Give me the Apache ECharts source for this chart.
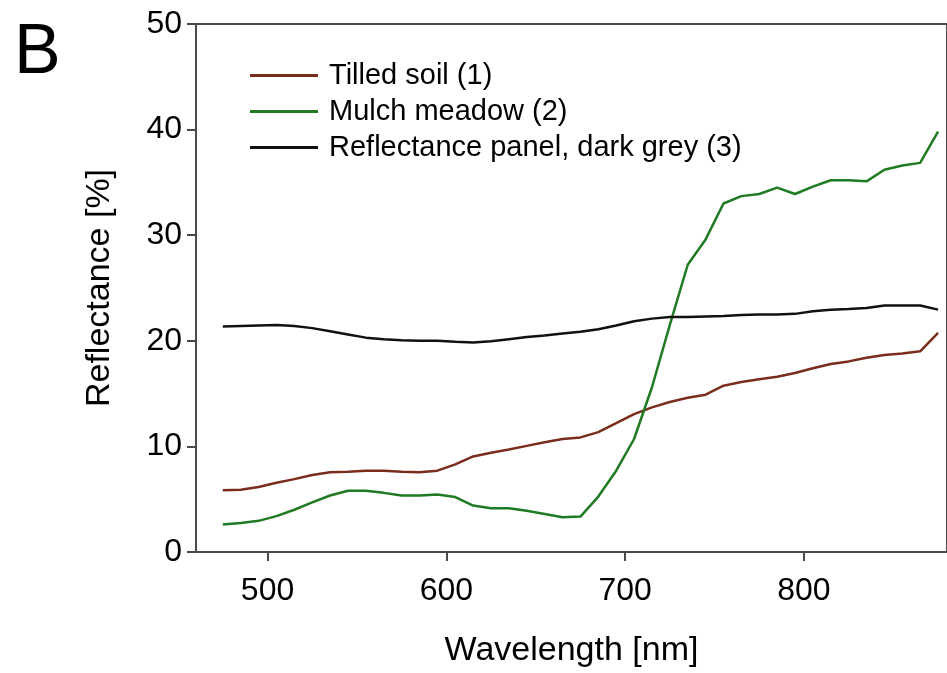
<!DOCTYPE html>
<html>
<head>
<meta charset="utf-8">
<title>Reflectance B</title>
<script src="https://cdn.jsdelivr.net/npm/echarts@6/dist/echarts.min.js"></script>
<style>
html, body { margin: 0; padding: 0; background: #fff; }
#chart { width: 947px; height: 673px; }
</style>
</head>
<body>
<div id="chart"></div>
<script>
// wavelength steps (nm)
var wavelength = [475, 485, 495, 505, 515, 525, 535, 545, 555, 565, 575, 585, 595, 605, 615, 625, 635, 645, 655, 665,
	675, 685, 695, 705, 715, 725, 735, 745, 755, 765, 775, 785, 795, 805, 815, 825, 835, 845, 855, 865, 875];

// Tilled soil (1)
var tilledSoil = [5.85, 5.9, 6.15, 6.55, 6.9, 7.3, 7.55, 7.6, 7.7, 7.7, 7.6, 7.55, 7.7, 8.3, 9.05, 9.4, 9.7, 10.05, 10.4, 10.7,
	10.85, 11.35, 12.2, 13.05, 13.7, 14.2, 14.6, 14.9, 15.75, 16.1, 16.35, 16.6, 16.95, 17.4, 17.8, 18.05, 18.4, 18.65, 18.8, 19.0, 20.75];

// Mulch meadow (2)
var mulchMeadow = [2.6, 2.75, 2.95, 3.4, 4.0, 4.7, 5.35, 5.8, 5.8, 5.6, 5.35, 5.35, 5.45, 5.2, 4.4, 4.15, 4.15, 3.9, 3.6, 3.3,
	3.35, 5.25, 7.7, 10.7, 15.6, 21.5, 27.2, 29.6, 33.0, 33.7, 33.9, 34.5, 33.9, 34.6, 35.2, 35.2, 35.1, 36.2, 36.6, 36.85, 39.8];

// Reflectance panel, dark grey (3)
var greyPanel = [21.35, 21.4, 21.45, 21.5, 21.4, 21.2, 20.9, 20.6, 20.3, 20.15, 20.05, 20.0, 20.0, 19.9, 19.85, 19.95, 20.15, 20.35, 20.5, 20.7,
	20.85, 21.1, 21.45, 21.85, 22.1, 22.25, 22.25, 22.3, 22.35, 22.45, 22.5, 22.5, 22.55, 22.8, 22.95, 23.0, 23.1, 23.35, 23.35, 23.35, 22.95];

var xTicks = [500, 600, 700, 800];
var seriesNames = ["Tilled soil (1)", "Mulch meadow (2)", "Reflectance panel, dark grey (3)"];

var font = "'Liberation Sans', Arial, sans-serif";
var axisGrey = "#4a4a4a";

function pairs(ys) {
	var out = [];
	for (var i = 0; i < wavelength.length; i++) {
		out.push([wavelength[i], ys[i]]);
	}
	return out;
}

function lineSeries(name, ys, color) {
	return {
		name: name,
		type: "line",
		data: pairs(ys),
		showSymbol: false,
		symbol: "none",
		lineStyle: { color: color, width: 2.5 },
		itemStyle: { color: color },
		animation: false
	};
}

var myChart = echarts.init(document.getElementById("chart"));

var option = {
	backgroundColor: "#fff",
	animation: false,
	graphic: [{
		type: "text",
		left: 14,
		top: 19,
		style: { text: "B", font: "70px " + font, fill: "#000" }
	}],
	grid: {
		left: 196, top: 24, bottom: 121, right: -5,
		show: true, borderColor: axisGrey, borderWidth: 2
	},
	legend: {
		orient: "vertical",
		left: 245,
		top: 56,
		itemWidth: 68,
		itemHeight: 3,
		itemGap: 7,
		icon: "rect",
		data: seriesNames,
		textStyle: { fontFamily: font, fontSize: 29, color: "#000", lineHeight: 29, padding: [0, 0, 0, 6] }
	},
	xAxis: {
		type: "value",
		min: 460,
		max: 880,
		name: "Wavelength [nm]",
		nameLocation: "middle",
		nameGap: 82,
		nameTextStyle: { fontFamily: font, fontSize: 34, color: "#000" },
		axisLine: { lineStyle: { color: axisGrey, width: 2 } },
		axisTick: { show: true, length: 9, customValues: xTicks, lineStyle: { color: axisGrey, width: 2 } },
		axisLabel: { customValues: xTicks, margin: 23, fontFamily: font, fontSize: 32, color: "#000" },
		splitLine: { show: false }
	},
	yAxis: {
		type: "value",
		min: 0,
		max: 50,
		interval: 10,
		name: "Reflectance [%]",
		nameLocation: "middle",
		nameGap: 79,
		nameTextStyle: { fontFamily: font, fontSize: 34, color: "#000" },
		axisLine: { show: true, lineStyle: { color: axisGrey, width: 2 } },
		axisTick: { show: true, length: 9, lineStyle: { color: axisGrey, width: 2 } },
		axisLabel: { margin: 14, fontFamily: font, fontSize: 32, color: "#000" },
		splitLine: { show: false }
	},
	series: [
		lineSeries(seriesNames[0], tilledSoil, "#7b2d1c"),
		lineSeries(seriesNames[1], mulchMeadow, "#1f7a22"),
		lineSeries(seriesNames[2], greyPanel, "#111111")
	]
};

myChart.setOption(option);
</script>
</body>
</html>
